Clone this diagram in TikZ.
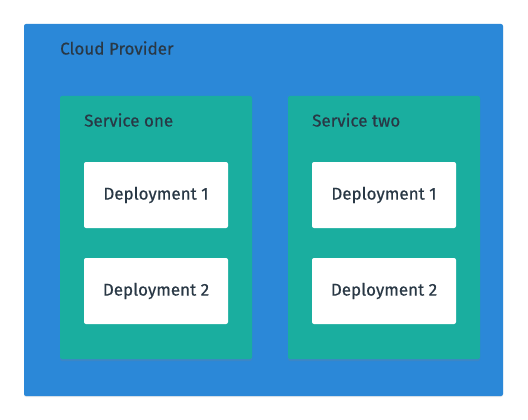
\documentclass[tikz,border=0pt]{standalone}
\usepackage{fontspec}
\setmainfont{Fira Sans}[BoldFont={Fira Sans},BoldFeatures={FakeBold=0.5}]
\usetikzlibrary{shadows}
\definecolor{cloudblue}{HTML}{2B88D8}
\definecolor{svcteal}{HTML}{1AAE9F}
\definecolor{txt}{HTML}{293845}
\begin{document}
\begin{tikzpicture}[x=1pt,y=-1pt,
  cloud/.style={fill=cloudblue,rounded corners=2pt,drop shadow={opacity=0.15,shadow xshift=0pt,shadow yshift=-1pt}},
  svc/.style={fill=svcteal,rounded corners=2pt,drop shadow={opacity=0.2,shadow xshift=0pt,shadow yshift=-2pt}},
  dep/.style={fill=white,rounded corners=2pt},
  lbl/.style={text=txt,font=\fontsize{17}{20}\bfseries,inner sep=0pt},
]
\useasboundingbox (0,0) rectangle (528,420);
\fill[white] (0,0) rectangle (528,420);
\path[cloud] (24,24) rectangle (503,396);
\node[lbl,anchor=west] (cp) at (60,48) {Cloud Provider};
\foreach \x/\n/\t in {60/s1/Service one,288/s2/Service two}{
  \path[svc] (\x,96) rectangle ++(192,263);
  \node[lbl,anchor=west] (\n) at (\x+24,120) {\t};
  \path[dep] (\x+24,162) rectangle ++(144,66);
  \node[lbl] (\n d1) at (\x+96,195) {Deployment 1};
  \path[dep] (\x+24,258) rectangle ++(144,66);
  \node[lbl] (\n d2) at (\x+96,291) {Deployment 2};
}
\end{tikzpicture}
\end{document}
